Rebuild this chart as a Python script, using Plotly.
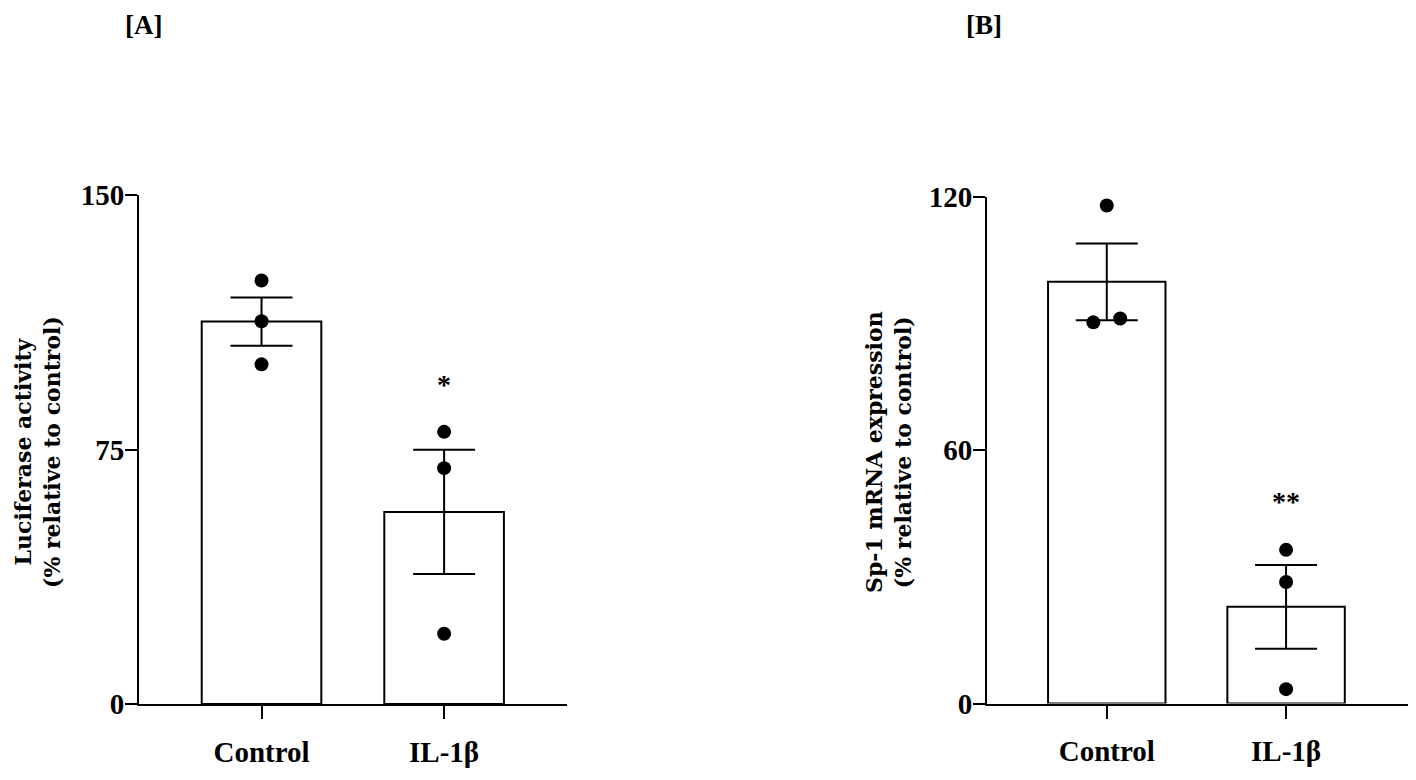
import plotly.graph_objects as go

# ---------------- data ----------------
categories = ["Control", "IL-1β"]

# Panel A: Luciferase activity (% relative to control)
a_means = [112.7, 56.6]
a_sem = [7.1, 18.3]
a_points_control = [124.8, 112.8, 100.1]
a_points_il1b = [80.2, 69.5, 20.7]
a_ticks = [0, 75, 150]
a_sig = ["", "*"]

# Panel B: Sp-1 mRNA expression (% relative to control)
b_means = [99.9, 22.9]
b_sem = [9.1, 9.9]
b_points_control = [118.0, 90.3, 91.2]
b_points_il1b = [36.4, 28.8, 3.4]
b_ticks = [0, 60, 120]
b_sig = ["", "**"]

# page body has an 8px margin; the figure is sized so the page fits 1416x780
OFF = 8
W, H = 1416 - 2 * OFF, 780 - 2 * OFF


def px(x):
    return (x - OFF) / W


def py(y):
    return (H - (y - OFF)) / H


TICKFONT = dict(family="Liberation Serif", size=29, color="black", weight="bold")
TITLEFONT = dict(family="DejaVu Serif", size=22, color="black", weight="bold")
SIGFONT = dict(family="Liberation Serif", size=28, color="black", weight="bold")
PANELFONT = dict(family="Liberation Serif", size=27, color="black", weight="bold")

fig = go.Figure()


def add_panel(xa, means, sem, pts_ctrl, pts_il, jit_ctrl, jit_il):
    xref = "x" if xa == 1 else f"x{xa}"
    yref = "y" if xa == 1 else f"y{xa}"
    fig.add_trace(go.Bar(
        x=[0, 1], y=means, width=0.655,
        marker=dict(color="white", line=dict(color="black", width=2)),
        error_y=dict(type="data", array=sem, visible=True, color="black",
                     thickness=2, width=31),
        xaxis=xref, yaxis=yref, showlegend=False, hoverinfo="skip",
    ))
    xs = [0 + j for j in jit_ctrl] + [1 + j for j in jit_il]
    ys = list(pts_ctrl) + list(pts_il)
    fig.add_trace(go.Scatter(
        x=xs, y=ys, mode="markers",
        marker=dict(color="black", size=14),
        xaxis=xref, yaxis=yref, showlegend=False, hoverinfo="skip",
    ))


add_panel(1, a_means, a_sem, a_points_control, a_points_il1b,
          [0, 0, 0], [0, 0, 0])
add_panel(2, b_means, b_sem, b_points_control, b_points_il1b,
          [0, -0.075, 0.075], [0, 0, 0])

common_x = dict(
    tickmode="array", tickvals=[0, 1], ticktext=categories,
    showline=True, linecolor="black", linewidth=2,
    ticks="outside", ticklen=13, tickwidth=2, tickcolor="black",
    tickfont=TICKFONT, showgrid=False, zeroline=False,
    ticklabelstandoff=8, automargin=False,
)
common_y = dict(
    tickmode="array",
    showline=True, linecolor="black", linewidth=2,
    ticks="outside", ticklen=12, tickwidth=2, tickcolor="black",
    tickfont=TICKFONT, showgrid=False, zeroline=False,
    ticklabelstandoff=-5, automargin=False,
)

fig.update_layout(
    template="none",
    width=W, height=H,
    margin=dict(l=0, r=0, t=0, b=0, pad=0),
    paper_bgcolor="white", plot_bgcolor="white",
    showlegend=False,
    xaxis=dict(domain=[px(139), px(567)], range=[-0.671, 1.673],
               anchor="y", **common_x),
    yaxis=dict(domain=[py(704), py(195)], range=[0, 150],
               tickvals=a_ticks, anchor="x", **common_y),
    xaxis2=dict(domain=[px(987), min(1.0, px(1412))], range=[-0.668, 1.68],
                anchor="y2", **common_x),
    yaxis2=dict(domain=[py(703.5), py(197)], range=[0, 120],
                tickvals=b_ticks, anchor="x2", **common_y),
)

annotations = []
# Panel labels
annotations.append(dict(text="[A]", x=px(143), y=py(25), xref="paper", yref="paper",
                        showarrow=False, xanchor="center", yanchor="middle",
                        font=PANELFONT))
annotations.append(dict(text="[B]", x=px(984), y=py(25), xref="paper", yref="paper",
                        showarrow=False, xanchor="center", yanchor="middle",
                        font=PANELFONT))
# Y-axis titles
annotations.append(dict(text="Luciferase activity<br>(% relative to control)",
                        x=px(37), y=py(452), xref="paper", yref="paper",
                        showarrow=False, textangle=-90, xanchor="center", yanchor="middle",
                        font=TITLEFONT))
annotations.append(dict(text="Sp-1 mRNA expression<br>(% relative to control)",
                        x=px(888), y=py(452), xref="paper", yref="paper",
                        showarrow=False, textangle=-90, xanchor="center", yanchor="middle",
                        font=TITLEFONT))
# Significance markers (placed above the error bars)
for i, s in enumerate(a_sig):
    if s:
        annotations.append(dict(text=s, x=i, y=a_means[i] + a_sem[i] + 19.3, xref="x", yref="y",
                                showarrow=False, xanchor="center", yanchor="middle",
                                font=SIGFONT))
for i, s in enumerate(b_sig):
    if s:
        annotations.append(dict(text=s, x=i, y=b_means[i] + b_sem[i] + 15, xref="x2", yref="y2",
                                showarrow=False, xanchor="center", yanchor="middle",
                                font=SIGFONT))
fig.update_layout(annotations=annotations)

fig.write_html("out.html")
